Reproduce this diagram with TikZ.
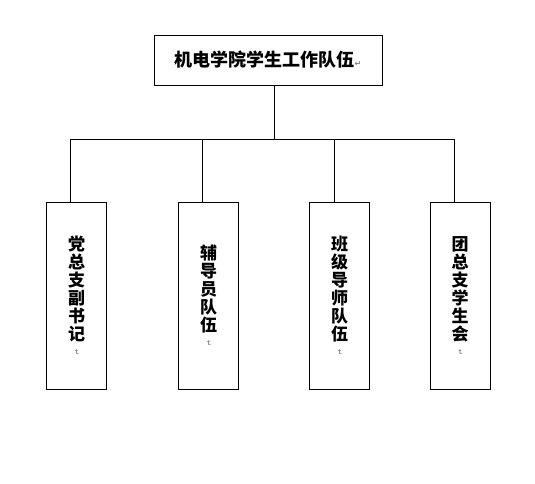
\documentclass[tikz,border=0pt]{standalone}
\usepackage{fontspec}
\usepackage{tikz}
\newfontfamily\cjk{Noto Sans CJK SC}
\newfontfamily\markfont{DejaVu Sans}
\newcommand{\parmark}{{\markfont\fontsize{7}{7}\selectfont\color{gray}\rotatebox{-90}{↵}}}
\newcommand{\parmarkh}{{\markfont\fontsize{8}{8}\selectfont\color{gray}↵}}
\tikzstyle{head} = [rectangle, draw=black, line width=0.9pt, minimum width=228pt,
minimum height=50pt, inner sep=0pt, font=\cjk\bfseries\fontsize{18}{18}\selectfont]
\tikzstyle{team} = [rectangle, draw=black, line width=0.9pt, minimum width=60pt,
minimum height=187pt, inner sep=0pt, align=center,
font=\cjk\bfseries\fontsize{17}{18}\selectfont]
\tikzstyle{link} = [line width=0.9pt]

\begin{document}
\begin{tikzpicture}[x=1pt, y=-1pt]
\useasboundingbox (0,0) rectangle (535,484);

\node(head)[head] at (268,60){机电学院学生工作队伍\parmarkh};
\node(party)[team] at (76.5,295.5){党\\总\\支\\副\\书\\记\\[-9pt]\parmark};
\node(tutor)[team] at (208.5,295.5){辅\\导\\员\\队\\伍\\[-9pt]\parmark};
\node(class)[team] at (339.5,295.5){班\\级\\导\\师\\队\\伍\\[-9pt]\parmark};
\node(union)[team] at (460,295.5){团\\总\\支\\学\\生\\会\\[-9pt]\parmark};

\draw[link]([xshift=6]head.south) -- ++(0,54);
\draw[link]([xshift=-6.5]party.north) -- ++(0,-62) -| ([xshift=-6]union.north);
\draw[link]([xshift=-6.5]tutor.north) -- ++(0,-62);
\draw[link]([xshift=-5.5]class.north) -- ++(0,-62);

\end{tikzpicture}
\end{document}
